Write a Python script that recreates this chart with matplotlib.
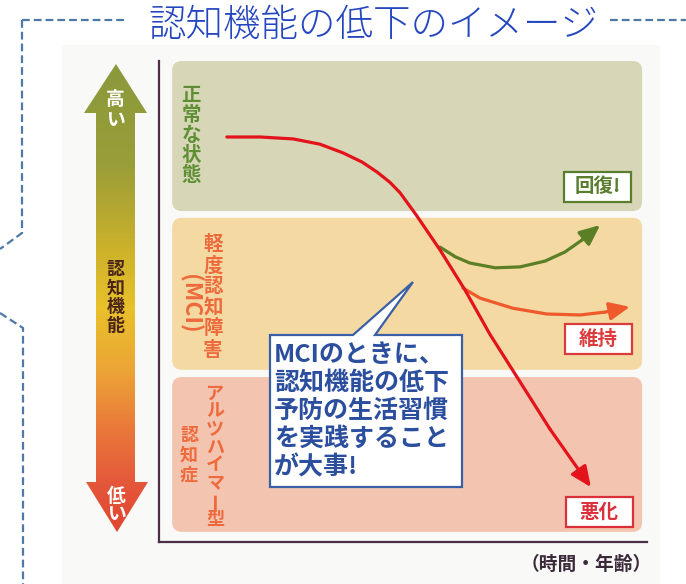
import matplotlib
matplotlib.use("Agg")
import matplotlib.pyplot as plt
import numpy as np
from matplotlib.colors import LinearSegmentedColormap
from matplotlib.patches import FancyArrowPatch, FancyBboxPatch, Polygon, Rectangle

plt.rcParams['font.family'] = ['Noto Sans CJK JP', 'DejaVu Sans']

# cognitive stages as level ranges on a 0-10 scale
stage_low = [6.88, 3.58, 0.21]
stage_high = [10.0, 6.74, 3.43]
stage_colors = ["#d7d6b7", "#f4d9a2", "#f3c5b1"]

# typical decline of cognitive function over time
decline_t = [1.39, 2.07, 2.75, 3.30, 3.77, 4.16, 4.47, 4.73, 4.94, 5.27, 5.76, 6.27, 6.78, 7.23, 8.01, 8.85]
decline_level = [8.42, 8.42, 8.38, 8.27, 8.09, 7.90, 7.69, 7.48, 7.26, 6.80, 6.07, 5.24, 4.32, 3.60, 2.35, 1.14]

# recovery branch from the MCI stage
recover_t = [5.76, 6.07, 6.37, 6.89, 7.40, 7.91, 8.32, 8.67, 9.04]
recover_level = [6.13, 5.93, 5.80, 5.70, 5.72, 5.84, 6.03, 6.28, 6.59]

# maintained branch from the MCI stage
maintain_t = [6.23, 6.58, 7.25, 7.95, 8.63, 9.14, 9.65]
maintain_level = [5.28, 5.07, 4.86, 4.74, 4.72, 4.78, 4.89]

W, H = 686, 584
fig = plt.figure(figsize=(W / 100, H / 100), dpi=100)
fig.patch.set_facecolor("white")

# --- background layer: frame, title, gradient arrow (pixel coords) ---
base = fig.add_axes([0, 0, 1, 1], zorder=0)
base.set_xlim(0, W)
base.set_ylim(H, 0)
base.axis("off")

base.add_patch(Rectangle((62, 45), 598, 539, facecolor="#f9f9f7", edgecolor="none"))

frame_kw = dict(color="#4f79a6", lw=1.6, ls=(0, (3.5, 1.8)))
base.plot([22, 128], [20, 20], **frame_kw)
base.plot([610, 686], [20, 20], **frame_kw)
base.plot([22, 22, 0], [20, 233, 249], **frame_kw)
base.plot([0, 23, 23], [313, 328, 584], **frame_kw)

base.text(373, 25, "認知機能の低下のイメージ", fontsize=27, color="#2446c0",
          weight="light", ha="center", va="center")

arrow_poly = np.array([
    [116, 64], [147, 113], [135, 113], [135, 482], [148, 482],
    [117, 532], [86, 482], [96, 482], [96, 113], [84, 113],
])
grad_cmap = LinearSegmentedColormap.from_list("level", [
    (0.0, "#8a993c"), (0.22, "#9a9e38"), (0.40, "#cdb22b"), (0.52, "#e8c12a"),
    (0.65, "#eca636"), (0.78, "#e9783a"), (0.90, "#e4563a"), (1.0, "#e0452e"),
])
grad = np.linspace(0, 1, 256).reshape(-1, 1)
im = base.imshow(grad, cmap=grad_cmap, aspect="auto", extent=(80, 152, 534, 62),
                 interpolation="bilinear", zorder=2)
clip = Polygon(arrow_poly, closed=True, transform=base.transData)
im.set_clip_path(clip)

for ch, y in zip("高い", [99, 121]):
    base.text(115.5, y, ch, fontsize=13.5, color="white", weight="bold",
              ha="center", va="center", zorder=4)
for ch, y in zip("低い", [497, 515]):
    base.text(116, y, ch, fontsize=13.5, color="white", weight="bold",
              ha="center", va="center", zorder=4)
for i, ch in enumerate("認知機能"):
    base.text(115.5, 270 + i * 18.4, ch, fontsize=13, color="#4a2418",
              weight="bold", ha="center", va="center", zorder=4)

base.text(586, 564, "（時間・年齢）", fontsize=13.5, color="#3b2b3a",
          weight="bold", ha="center", va="center")

# --- chart layer: stage bands and curves ---
ax = fig.add_axes([159 / W, 42 / H, 488 / W, 481 / H], zorder=1)
ax.set_xlim(0, 10)
ax.set_ylim(0, 10)
ax.patch.set_alpha(0)
for side in ("top", "right"):
    ax.spines[side].set_visible(False)
for side in ("left", "bottom"):
    ax.spines[side].set_color("#4b2f45")
    ax.spines[side].set_linewidth(1.6)
ax.set_xticks([])
ax.set_yticks([])

for lo, hi, col in zip(stage_low, stage_high, stage_colors):
    ax.add_patch(FancyBboxPatch((0.27, lo), 9.63, hi - lo,
                                boxstyle="round,pad=0,rounding_size=0.2",
                                facecolor=col, edgecolor="none", clip_on=False))


def draw_curve(t, level, color):
    ax.plot(t[:-1], level[:-1], color=color, lw=2.3, solid_capstyle="round",
            solid_joinstyle="round")
    ax.add_patch(FancyArrowPatch((t[-2], level[-2]), (t[-1], level[-1]),
                                 arrowstyle="-|>,head_length=0.95,head_width=0.42",
                                 mutation_scale=13, lw=2.3, color=color,
                                 shrinkA=0, shrinkB=0))


draw_curve(recover_t, recover_level, "#5b7f27")
draw_curve(maintain_t, maintain_level, "#ee5a2c")
draw_curve(decline_t, decline_level, "#e3131b")

# --- annotation layer: stage names, outcome tags, speech bubble ---
top = fig.add_axes([0, 0, 1, 1], zorder=2)
top.set_xlim(0, W)
top.set_ylim(H, 0)
top.axis("off")


def vtext(x, y0, step, s, color, size=14):
    for i, ch in enumerate(s):
        rot = 90 if ch == "ー" else 0
        top.text(x, y0 + i * step, ch, fontsize=size, color=color, weight="bold",
                 ha="center", va="center", rotation=rot)


green_txt = "#5f8f33"
orange_txt = "#ee6a3c"
vtext(191, 95, 20.2, "正常な状態", green_txt)
vtext(213, 245, 21, "軽度認知障害", orange_txt)
top.text(189, 304, "(MCI)", fontsize=16.5, color=orange_txt, weight="bold",
         ha="center", va="center", rotation=270, rotation_mode="anchor")
vtext(215, 393, 18, "アルツハイマー型", orange_txt, size=13)
vtext(189, 435, 20, "認知症", orange_txt, size=13)

tags = [("回復!", 597.5, 187, "#5a7d2e"), ("維持", 598, 339, "#dc3b3b"),
        ("悪化", 599, 512, "#dc2f3a")]
for label, cx, cy, col in tags:
    top.add_patch(Rectangle((cx - 33.5, cy - 15), 67, 30, facecolor="white",
                            edgecolor=col, lw=1.6))
    top.text(cx, cy, label, fontsize=14, color=col, weight="bold",
             ha="center", va="center")

bubble = np.array([[270, 335], [353, 335], [413, 282], [375, 335], [462, 335],
                   [462, 487], [270, 487]])
top.add_patch(Polygon(bubble, closed=True, facecolor="white", edgecolor="#3b5fa5",
                      lw=1.6, joinstyle="miter"))
bubble_lines = ["MCIのときに、", "認知機能の低下", "予防の生活習慣", "を実践すること", "が大事!"]
for i, line in enumerate(bubble_lines):
    top.text(274, 355 + i * 28, line, fontsize=18, color="#2b4f9e", weight="bold",
             ha="left", va="center")

fig.savefig("out.png", dpi=100)
